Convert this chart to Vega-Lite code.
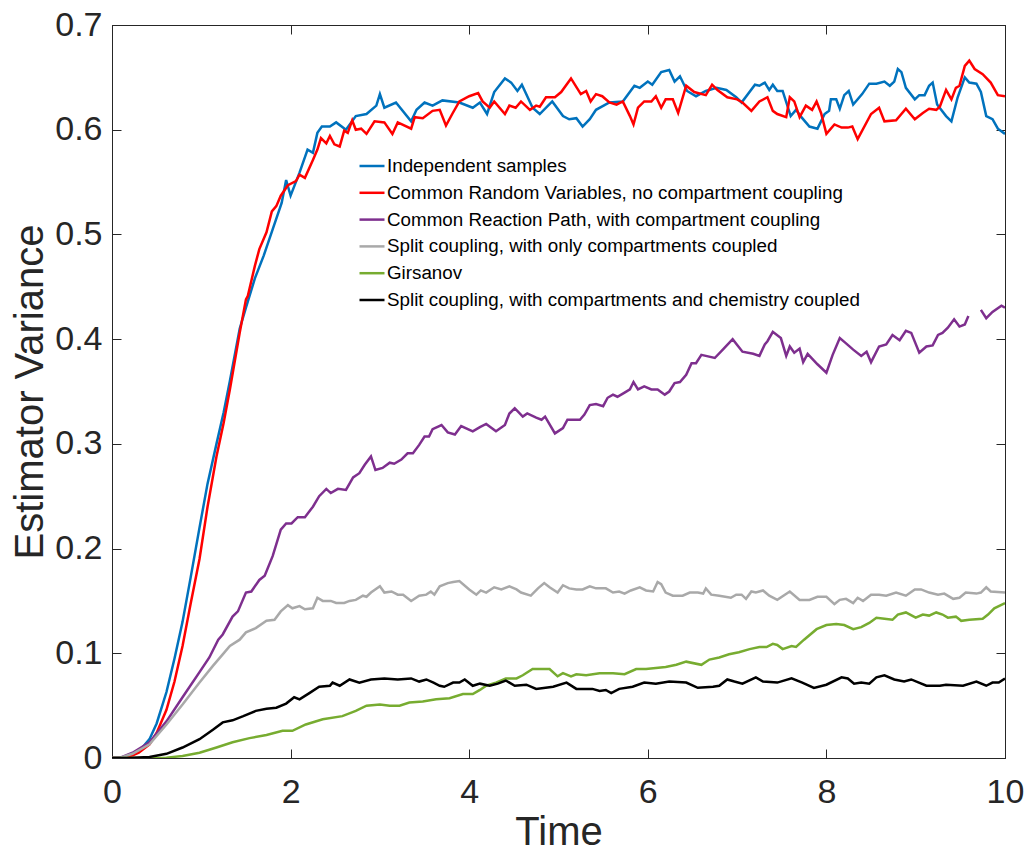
{
"$schema": "https://vega.github.io/schema/vega-lite/v6.json",
"width": 893, "height": 733,
"autosize": {"type": "none"},
"padding": {"left": 112, "top": 25, "right": 22, "bottom": 94},
"background": "white",
"config": {"view": {"stroke": "#262626", "strokeWidth": 1}, "font": "Liberation Sans"},
"data": {"values": [
{"t":0,"s":"a","v":0},{"t":0.1,"s":"a","v":0.0005},{"t":0.2,"s":"a","v":0.002},{"t":0.3,"s":"a","v":0.006},{"t":0.42,"s":"a","v":0.018},{"t":0.5,"s":"a","v":0.033},{"t":0.61,"s":"a","v":0.063},{"t":0.7,"s":"a","v":0.095},{"t":0.79,"s":"a","v":0.13},{"t":0.88,"s":"a","v":0.172},{"t":0.98,"s":"a","v":0.22},{"t":1.07,"s":"a","v":0.262},{"t":1.17,"s":"a","v":0.3},{"t":1.25,"s":"a","v":0.33},{"t":1.32,"s":"a","v":0.36},{"t":1.43,"s":"a","v":0.41},{"t":1.5,"s":"a","v":0.43},{"t":1.6,"s":"a","v":0.458},{"t":1.7,"s":"a","v":0.48},{"t":1.8,"s":"a","v":0.505},{"t":1.9,"s":"a","v":0.53},{"t":1.95,"s":"a","v":0.552},{"t":2.0,"s":"a","v":0.537},{"t":2.1,"s":"a","v":0.559},{"t":2.19,"s":"a","v":0.581},{"t":2.25,"s":"a","v":0.578},{"t":2.3,"s":"a","v":0.597},{"t":2.35,"s":"a","v":0.603},{"t":2.44,"s":"a","v":0.603},{"t":2.51,"s":"a","v":0.607},{"t":2.62,"s":"a","v":0.6},{"t":2.73,"s":"a","v":0.613},{"t":2.85,"s":"a","v":0.615},{"t":2.96,"s":"a","v":0.623},{"t":3.0,"s":"a","v":0.634},{"t":3.05,"s":"a","v":0.621},{"t":3.18,"s":"a","v":0.626},{"t":3.35,"s":"a","v":0.608},{"t":3.41,"s":"a","v":0.619},{"t":3.5,"s":"a","v":0.626},{"t":3.59,"s":"a","v":0.623},{"t":3.7,"s":"a","v":0.628},{"t":3.89,"s":"a","v":0.626},{"t":4.04,"s":"a","v":0.621},{"t":4.12,"s":"a","v":0.626},{"t":4.2,"s":"a","v":0.615},{"t":4.28,"s":"a","v":0.636},{"t":4.4,"s":"a","v":0.649},{"t":4.47,"s":"a","v":0.645},{"t":4.54,"s":"a","v":0.637},{"t":4.59,"s":"a","v":0.643},{"t":4.71,"s":"a","v":0.621},{"t":4.79,"s":"a","v":0.615},{"t":4.93,"s":"a","v":0.627},{"t":5.05,"s":"a","v":0.613},{"t":5.12,"s":"a","v":0.61},{"t":5.2,"s":"a","v":0.611},{"t":5.27,"s":"a","v":0.603},{"t":5.35,"s":"a","v":0.61},{"t":5.42,"s":"a","v":0.619},{"t":5.57,"s":"a","v":0.626},{"t":5.72,"s":"a","v":0.627},{"t":5.85,"s":"a","v":0.642},{"t":5.91,"s":"a","v":0.64},{"t":6.0,"s":"a","v":0.646},{"t":6.05,"s":"a","v":0.643},{"t":6.15,"s":"a","v":0.655},{"t":6.24,"s":"a","v":0.657},{"t":6.3,"s":"a","v":0.646},{"t":6.36,"s":"a","v":0.651},{"t":6.44,"s":"a","v":0.637},{"t":6.54,"s":"a","v":0.632},{"t":6.65,"s":"a","v":0.637},{"t":6.77,"s":"a","v":0.64},{"t":6.88,"s":"a","v":0.638},{"t":6.99,"s":"a","v":0.631},{"t":7.05,"s":"a","v":0.626},{"t":7.2,"s":"a","v":0.643},{"t":7.25,"s":"a","v":0.642},{"t":7.31,"s":"a","v":0.645},{"t":7.36,"s":"a","v":0.638},{"t":7.4,"s":"a","v":0.643},{"t":7.45,"s":"a","v":0.637},{"t":7.51,"s":"a","v":0.637},{"t":7.6,"s":"a","v":0.613},{"t":7.66,"s":"a","v":0.619},{"t":7.72,"s":"a","v":0.612},{"t":7.81,"s":"a","v":0.603},{"t":7.9,"s":"a","v":0.601},{"t":7.98,"s":"a","v":0.615},{"t":8.03,"s":"a","v":0.618},{"t":8.05,"s":"a","v":0.629},{"t":8.11,"s":"a","v":0.629},{"t":8.15,"s":"a","v":0.62},{"t":8.2,"s":"a","v":0.633},{"t":8.25,"s":"a","v":0.637},{"t":8.3,"s":"a","v":0.624},{"t":8.4,"s":"a","v":0.634},{"t":8.48,"s":"a","v":0.644},{"t":8.56,"s":"a","v":0.644},{"t":8.65,"s":"a","v":0.646},{"t":8.71,"s":"a","v":0.642},{"t":8.76,"s":"a","v":0.646},{"t":8.8,"s":"a","v":0.658},{"t":8.84,"s":"a","v":0.655},{"t":8.89,"s":"a","v":0.64},{"t":8.99,"s":"a","v":0.629},{"t":9.04,"s":"a","v":0.633},{"t":9.1,"s":"a","v":0.633},{"t":9.15,"s":"a","v":0.642},{"t":9.19,"s":"a","v":0.645},{"t":9.24,"s":"a","v":0.624},{"t":9.34,"s":"a","v":0.613},{"t":9.4,"s":"a","v":0.608},{"t":9.47,"s":"a","v":0.631},{"t":9.55,"s":"a","v":0.65},{"t":9.6,"s":"a","v":0.645},{"t":9.68,"s":"a","v":0.644},{"t":9.73,"s":"a","v":0.636},{"t":9.79,"s":"a","v":0.613},{"t":9.86,"s":"a","v":0.61},{"t":9.92,"s":"a","v":0.601},{"t":10,"s":"a","v":0.596},
{"t":0,"s":"b","v":0},{"t":0.1,"s":"b","v":0.0003},{"t":0.2,"s":"b","v":0.0015},{"t":0.3,"s":"b","v":0.005},{"t":0.42,"s":"b","v":0.013},{"t":0.5,"s":"b","v":0.024},{"t":0.61,"s":"b","v":0.046},{"t":0.7,"s":"b","v":0.073},{"t":0.79,"s":"b","v":0.107},{"t":0.88,"s":"b","v":0.147},{"t":0.98,"s":"b","v":0.19},{"t":1.07,"s":"b","v":0.24},{"t":1.17,"s":"b","v":0.288},{"t":1.25,"s":"b","v":0.32},{"t":1.32,"s":"b","v":0.352},{"t":1.43,"s":"b","v":0.406},{"t":1.5,"s":"b","v":0.438},{"t":1.52,"s":"b","v":0.441},{"t":1.6,"s":"b","v":0.47},{"t":1.65,"s":"b","v":0.486},{"t":1.73,"s":"b","v":0.502},{"t":1.79,"s":"b","v":0.522},{"t":1.84,"s":"b","v":0.527},{"t":1.89,"s":"b","v":0.537},{"t":1.97,"s":"b","v":0.547},{"t":2.06,"s":"b","v":0.551},{"t":2.1,"s":"b","v":0.557},{"t":2.16,"s":"b","v":0.554},{"t":2.25,"s":"b","v":0.571},{"t":2.3,"s":"b","v":0.581},{"t":2.34,"s":"b","v":0.592},{"t":2.4,"s":"b","v":0.587},{"t":2.44,"s":"b","v":0.594},{"t":2.49,"s":"b","v":0.586},{"t":2.55,"s":"b","v":0.584},{"t":2.6,"s":"b","v":0.599},{"t":2.64,"s":"b","v":0.597},{"t":2.69,"s":"b","v":0.609},{"t":2.73,"s":"b","v":0.6},{"t":2.79,"s":"b","v":0.601},{"t":2.85,"s":"b","v":0.596},{"t":2.94,"s":"b","v":0.608},{"t":3.05,"s":"b","v":0.607},{"t":3.14,"s":"b","v":0.596},{"t":3.2,"s":"b","v":0.607},{"t":3.35,"s":"b","v":0.601},{"t":3.39,"s":"b","v":0.612},{"t":3.48,"s":"b","v":0.611},{"t":3.59,"s":"b","v":0.618},{"t":3.67,"s":"b","v":0.619},{"t":3.74,"s":"b","v":0.604},{"t":3.81,"s":"b","v":0.615},{"t":3.89,"s":"b","v":0.627},{"t":4.0,"s":"b","v":0.632},{"t":4.1,"s":"b","v":0.635},{"t":4.15,"s":"b","v":0.627},{"t":4.23,"s":"b","v":0.621},{"t":4.28,"s":"b","v":0.627},{"t":4.4,"s":"b","v":0.615},{"t":4.45,"s":"b","v":0.623},{"t":4.52,"s":"b","v":0.621},{"t":4.58,"s":"b","v":0.627},{"t":4.68,"s":"b","v":0.619},{"t":4.75,"s":"b","v":0.623},{"t":4.79,"s":"b","v":0.622},{"t":4.86,"s":"b","v":0.631},{"t":4.96,"s":"b","v":0.631},{"t":5.03,"s":"b","v":0.636},{"t":5.14,"s":"b","v":0.649},{"t":5.25,"s":"b","v":0.634},{"t":5.31,"s":"b","v":0.637},{"t":5.36,"s":"b","v":0.627},{"t":5.42,"s":"b","v":0.634},{"t":5.49,"s":"b","v":0.632},{"t":5.57,"s":"b","v":0.626},{"t":5.65,"s":"b","v":0.624},{"t":5.72,"s":"b","v":0.627},{"t":5.8,"s":"b","v":0.613},{"t":5.84,"s":"b","v":0.605},{"t":5.89,"s":"b","v":0.621},{"t":5.96,"s":"b","v":0.627},{"t":6.04,"s":"b","v":0.627},{"t":6.09,"s":"b","v":0.632},{"t":6.15,"s":"b","v":0.621},{"t":6.2,"s":"b","v":0.629},{"t":6.28,"s":"b","v":0.629},{"t":6.34,"s":"b","v":0.616},{"t":6.43,"s":"b","v":0.642},{"t":6.52,"s":"b","v":0.636},{"t":6.65,"s":"b","v":0.633},{"t":6.72,"s":"b","v":0.643},{"t":6.78,"s":"b","v":0.638},{"t":6.89,"s":"b","v":0.631},{"t":7.0,"s":"b","v":0.629},{"t":7.06,"s":"b","v":0.626},{"t":7.16,"s":"b","v":0.618},{"t":7.25,"s":"b","v":0.627},{"t":7.34,"s":"b","v":0.631},{"t":7.4,"s":"b","v":0.618},{"t":7.45,"s":"b","v":0.615},{"t":7.55,"s":"b","v":0.612},{"t":7.59,"s":"b","v":0.631},{"t":7.64,"s":"b","v":0.627},{"t":7.7,"s":"b","v":0.612},{"t":7.77,"s":"b","v":0.623},{"t":7.84,"s":"b","v":0.619},{"t":7.89,"s":"b","v":0.627},{"t":7.94,"s":"b","v":0.616},{"t":8.0,"s":"b","v":0.596},{"t":8.09,"s":"b","v":0.605},{"t":8.17,"s":"b","v":0.602},{"t":8.24,"s":"b","v":0.602},{"t":8.29,"s":"b","v":0.603},{"t":8.35,"s":"b","v":0.591},{"t":8.5,"s":"b","v":0.615},{"t":8.59,"s":"b","v":0.621},{"t":8.65,"s":"b","v":0.608},{"t":8.78,"s":"b","v":0.609},{"t":8.89,"s":"b","v":0.62},{"t":8.99,"s":"b","v":0.61},{"t":9.08,"s":"b","v":0.616},{"t":9.15,"s":"b","v":0.62},{"t":9.23,"s":"b","v":0.619},{"t":9.27,"s":"b","v":0.622},{"t":9.34,"s":"b","v":0.638},{"t":9.4,"s":"b","v":0.629},{"t":9.45,"s":"b","v":0.64},{"t":9.49,"s":"b","v":0.642},{"t":9.55,"s":"b","v":0.661},{"t":9.6,"s":"b","v":0.666},{"t":9.66,"s":"b","v":0.658},{"t":9.75,"s":"b","v":0.653},{"t":9.84,"s":"b","v":0.645},{"t":9.92,"s":"b","v":0.633},{"t":10,"s":"b","v":0.632},
{"t":0,"s":"c","v":0},{"t":0.1,"s":"c","v":0.0005},{"t":0.23,"s":"c","v":0.005},{"t":0.42,"s":"c","v":0.015},{"t":0.61,"s":"c","v":0.035},{"t":0.79,"s":"c","v":0.058},{"t":0.98,"s":"c","v":0.082},{"t":1.09,"s":"c","v":0.096},{"t":1.19,"s":"c","v":0.113},{"t":1.24,"s":"c","v":0.118},{"t":1.35,"s":"c","v":0.135},{"t":1.41,"s":"c","v":0.14},{"t":1.5,"s":"c","v":0.158},{"t":1.56,"s":"c","v":0.159},{"t":1.65,"s":"c","v":0.17},{"t":1.71,"s":"c","v":0.174},{"t":1.8,"s":"c","v":0.193},{"t":1.89,"s":"c","v":0.218},{"t":1.95,"s":"c","v":0.224},{"t":2.01,"s":"c","v":0.224},{"t":2.08,"s":"c","v":0.23},{"t":2.16,"s":"c","v":0.23},{"t":2.25,"s":"c","v":0.24},{"t":2.32,"s":"c","v":0.25},{"t":2.4,"s":"c","v":0.257},{"t":2.45,"s":"c","v":0.253},{"t":2.53,"s":"c","v":0.257},{"t":2.62,"s":"c","v":0.256},{"t":2.7,"s":"c","v":0.268},{"t":2.77,"s":"c","v":0.272},{"t":2.83,"s":"c","v":0.28},{"t":2.9,"s":"c","v":0.288},{"t":2.95,"s":"c","v":0.275},{"t":3.03,"s":"c","v":0.277},{"t":3.11,"s":"c","v":0.282},{"t":3.16,"s":"c","v":0.281},{"t":3.24,"s":"c","v":0.285},{"t":3.31,"s":"c","v":0.291},{"t":3.37,"s":"c","v":0.291},{"t":3.44,"s":"c","v":0.299},{"t":3.5,"s":"c","v":0.307},{"t":3.55,"s":"c","v":0.307},{"t":3.59,"s":"c","v":0.314},{"t":3.69,"s":"c","v":0.318},{"t":3.76,"s":"c","v":0.311},{"t":3.84,"s":"c","v":0.309},{"t":3.91,"s":"c","v":0.317},{"t":4.04,"s":"c","v":0.312},{"t":4.12,"s":"c","v":0.316},{"t":4.19,"s":"c","v":0.319},{"t":4.3,"s":"c","v":0.312},{"t":4.4,"s":"c","v":0.318},{"t":4.45,"s":"c","v":0.329},{"t":4.51,"s":"c","v":0.334},{"t":4.6,"s":"c","v":0.326},{"t":4.65,"s":"c","v":0.329},{"t":4.75,"s":"c","v":0.325},{"t":4.81,"s":"c","v":0.323},{"t":4.85,"s":"c","v":0.326},{"t":4.96,"s":"c","v":0.31},{"t":5.05,"s":"c","v":0.315},{"t":5.1,"s":"c","v":0.323},{"t":5.16,"s":"c","v":0.323},{"t":5.24,"s":"c","v":0.323},{"t":5.29,"s":"c","v":0.328},{"t":5.35,"s":"c","v":0.337},{"t":5.42,"s":"c","v":0.338},{"t":5.5,"s":"c","v":0.336},{"t":5.55,"s":"c","v":0.344},{"t":5.61,"s":"c","v":0.347},{"t":5.66,"s":"c","v":0.345},{"t":5.74,"s":"c","v":0.349},{"t":5.8,"s":"c","v":0.352},{"t":5.84,"s":"c","v":0.359},{"t":5.89,"s":"c","v":0.352},{"t":5.96,"s":"c","v":0.355},{"t":6.04,"s":"c","v":0.352},{"t":6.11,"s":"c","v":0.352},{"t":6.19,"s":"c","v":0.347},{"t":6.24,"s":"c","v":0.35},{"t":6.3,"s":"c","v":0.358},{"t":6.36,"s":"c","v":0.359},{"t":6.43,"s":"c","v":0.366},{"t":6.49,"s":"c","v":0.377},{"t":6.54,"s":"c","v":0.377},{"t":6.6,"s":"c","v":0.385},{"t":6.65,"s":"c","v":0.384},{"t":6.75,"s":"c","v":0.382},{"t":6.84,"s":"c","v":0.39},{"t":6.95,"s":"c","v":0.4},{"t":7.06,"s":"c","v":0.388},{"t":7.18,"s":"c","v":0.386},{"t":7.25,"s":"c","v":0.384},{"t":7.31,"s":"c","v":0.395},{"t":7.34,"s":"c","v":0.398},{"t":7.4,"s":"c","v":0.407},{"t":7.49,"s":"c","v":0.401},{"t":7.55,"s":"c","v":0.384},{"t":7.59,"s":"c","v":0.393},{"t":7.64,"s":"c","v":0.387},{"t":7.7,"s":"c","v":0.391},{"t":7.74,"s":"c","v":0.378},{"t":7.79,"s":"c","v":0.386},{"t":7.9,"s":"c","v":0.376},{"t":8.0,"s":"c","v":0.368},{"t":8.07,"s":"c","v":0.385},{"t":8.15,"s":"c","v":0.401},{"t":8.22,"s":"c","v":0.396},{"t":8.3,"s":"c","v":0.39},{"t":8.39,"s":"c","v":0.384},{"t":8.45,"s":"c","v":0.388},{"t":8.5,"s":"c","v":0.378},{"t":8.59,"s":"c","v":0.393},{"t":8.67,"s":"c","v":0.395},{"t":8.74,"s":"c","v":0.404},{"t":8.82,"s":"c","v":0.399},{"t":8.89,"s":"c","v":0.408},{"t":8.95,"s":"c","v":0.406},{"t":9.04,"s":"c","v":0.387},{"t":9.12,"s":"c","v":0.393},{"t":9.19,"s":"c","v":0.394},{"t":9.25,"s":"c","v":0.404},{"t":9.3,"s":"c","v":0.406},{"t":9.36,"s":"c","v":0.411},{"t":9.43,"s":"c","v":0.419},{"t":9.49,"s":"c","v":0.412},{"t":9.55,"s":"c","v":0.414},{"t":9.59,"s":"c","v":0.422},{"t":9.65,"s":"c","v":null},{"t":9.73,"s":"c","v":0.428},{"t":9.79,"s":"c","v":0.42},{"t":9.86,"s":"c","v":0.426},{"t":9.96,"s":"c","v":0.432},{"t":10,"s":"c","v":0.43},
{"t":0,"s":"d","v":0},{"t":0.1,"s":"d","v":0.0005},{"t":0.23,"s":"d","v":0.004},{"t":0.42,"s":"d","v":0.013},{"t":0.61,"s":"d","v":0.032},{"t":0.79,"s":"d","v":0.051},{"t":0.98,"s":"d","v":0.072},{"t":1.13,"s":"d","v":0.088},{"t":1.24,"s":"d","v":0.099},{"t":1.32,"s":"d","v":0.107},{"t":1.43,"s":"d","v":0.113},{"t":1.5,"s":"d","v":0.12},{"t":1.61,"s":"d","v":0.124},{"t":1.73,"s":"d","v":0.131},{"t":1.82,"s":"d","v":0.132},{"t":1.89,"s":"d","v":0.14},{"t":1.97,"s":"d","v":0.146},{"t":2.02,"s":"d","v":0.143},{"t":2.1,"s":"d","v":0.145},{"t":2.16,"s":"d","v":0.142},{"t":2.25,"s":"d","v":0.143},{"t":2.3,"s":"d","v":0.153},{"t":2.36,"s":"d","v":0.15},{"t":2.45,"s":"d","v":0.15},{"t":2.51,"s":"d","v":0.148},{"t":2.6,"s":"d","v":0.148},{"t":2.66,"s":"d","v":0.15},{"t":2.73,"s":"d","v":0.151},{"t":2.81,"s":"d","v":0.155},{"t":2.85,"s":"d","v":0.154},{"t":2.9,"s":"d","v":0.158},{"t":3.0,"s":"d","v":0.164},{"t":3.05,"s":"d","v":0.158},{"t":3.13,"s":"d","v":0.159},{"t":3.2,"s":"d","v":0.156},{"t":3.26,"s":"d","v":0.156},{"t":3.35,"s":"d","v":0.15},{"t":3.44,"s":"d","v":0.155},{"t":3.52,"s":"d","v":0.156},{"t":3.57,"s":"d","v":0.159},{"t":3.61,"s":"d","v":0.156},{"t":3.67,"s":"d","v":0.164},{"t":3.76,"s":"d","v":0.167},{"t":3.82,"s":"d","v":0.168},{"t":3.89,"s":"d","v":0.169},{"t":4.0,"s":"d","v":0.161},{"t":4.08,"s":"d","v":0.156},{"t":4.13,"s":"d","v":0.16},{"t":4.19,"s":"d","v":0.158},{"t":4.28,"s":"d","v":0.163},{"t":4.36,"s":"d","v":0.161},{"t":4.45,"s":"d","v":0.164},{"t":4.53,"s":"d","v":0.161},{"t":4.58,"s":"d","v":0.158},{"t":4.69,"s":"d","v":0.155},{"t":4.77,"s":"d","v":0.162},{"t":4.84,"s":"d","v":0.167},{"t":4.9,"s":"d","v":0.163},{"t":4.99,"s":"d","v":0.158},{"t":5.05,"s":"d","v":0.165},{"t":5.12,"s":"d","v":0.162},{"t":5.2,"s":"d","v":0.161},{"t":5.27,"s":"d","v":0.161},{"t":5.35,"s":"d","v":0.164},{"t":5.42,"s":"d","v":0.162},{"t":5.53,"s":"d","v":0.162},{"t":5.61,"s":"d","v":0.158},{"t":5.68,"s":"d","v":0.159},{"t":5.74,"s":"d","v":0.157},{"t":5.81,"s":"d","v":0.16},{"t":5.91,"s":"d","v":0.163},{"t":5.98,"s":"d","v":0.16},{"t":6.06,"s":"d","v":0.159},{"t":6.11,"s":"d","v":0.168},{"t":6.15,"s":"d","v":0.166},{"t":6.2,"s":"d","v":0.158},{"t":6.28,"s":"d","v":0.155},{"t":6.39,"s":"d","v":0.155},{"t":6.47,"s":"d","v":0.158},{"t":6.56,"s":"d","v":0.158},{"t":6.62,"s":"d","v":0.157},{"t":6.65,"s":"d","v":0.162},{"t":6.71,"s":"d","v":0.156},{"t":6.8,"s":"d","v":0.155},{"t":6.93,"s":"d","v":0.153},{"t":6.99,"s":"d","v":0.156},{"t":7.05,"s":"d","v":0.156},{"t":7.1,"s":"d","v":0.152},{"t":7.16,"s":"d","v":0.159},{"t":7.21,"s":"d","v":0.158},{"t":7.29,"s":"d","v":0.16},{"t":7.36,"s":"d","v":0.155},{"t":7.45,"s":"d","v":0.151},{"t":7.59,"s":"d","v":0.159},{"t":7.7,"s":"d","v":0.151},{"t":7.81,"s":"d","v":0.151},{"t":7.9,"s":"d","v":0.154},{"t":8.0,"s":"d","v":0.154},{"t":8.09,"s":"d","v":0.147},{"t":8.15,"s":"d","v":0.151},{"t":8.22,"s":"d","v":0.152},{"t":8.3,"s":"d","v":0.148},{"t":8.35,"s":"d","v":0.153},{"t":8.41,"s":"d","v":0.15},{"t":8.5,"s":"d","v":0.156},{"t":8.59,"s":"d","v":0.156},{"t":8.67,"s":"d","v":0.155},{"t":8.78,"s":"d","v":0.158},{"t":8.89,"s":"d","v":0.155},{"t":8.99,"s":"d","v":0.161},{"t":9.06,"s":"d","v":0.161},{"t":9.15,"s":"d","v":0.158},{"t":9.25,"s":"d","v":0.156},{"t":9.32,"s":"d","v":0.157},{"t":9.42,"s":"d","v":0.152},{"t":9.49,"s":"d","v":0.153},{"t":9.56,"s":"d","v":0.158},{"t":9.68,"s":"d","v":0.157},{"t":9.73,"s":"d","v":0.158},{"t":9.79,"s":"d","v":0.163},{"t":9.84,"s":"d","v":0.159},{"t":10,"s":"d","v":0.158},
{"t":0,"s":"e","v":0},{"t":0.3,"s":"e","v":0},{"t":0.5,"s":"e","v":0},{"t":0.61,"s":"e","v":0.0003},{"t":0.79,"s":"e","v":0.002},{"t":0.98,"s":"e","v":0.005},{"t":1.17,"s":"e","v":0.01},{"t":1.35,"s":"e","v":0.015},{"t":1.54,"s":"e","v":0.019},{"t":1.73,"s":"e","v":0.022},{"t":1.91,"s":"e","v":0.026},{"t":2.02,"s":"e","v":0.026},{"t":2.17,"s":"e","v":0.032},{"t":2.36,"s":"e","v":0.037},{"t":2.58,"s":"e","v":0.04},{"t":2.73,"s":"e","v":0.045},{"t":2.85,"s":"e","v":0.05},{"t":3.0,"s":"e","v":0.051},{"t":3.11,"s":"e","v":0.05},{"t":3.22,"s":"e","v":0.05},{"t":3.33,"s":"e","v":0.053},{"t":3.48,"s":"e","v":0.054},{"t":3.63,"s":"e","v":0.056},{"t":3.78,"s":"e","v":0.057},{"t":3.93,"s":"e","v":0.061},{"t":4.04,"s":"e","v":0.061},{"t":4.12,"s":"e","v":0.065},{"t":4.19,"s":"e","v":0.069},{"t":4.3,"s":"e","v":0.072},{"t":4.41,"s":"e","v":0.076},{"t":4.53,"s":"e","v":0.076},{"t":4.6,"s":"e","v":0.079},{"t":4.71,"s":"e","v":0.085},{"t":4.9,"s":"e","v":0.085},{"t":4.99,"s":"e","v":0.078},{"t":5.05,"s":"e","v":0.081},{"t":5.14,"s":"e","v":0.078},{"t":5.2,"s":"e","v":0.08},{"t":5.31,"s":"e","v":0.079},{"t":5.46,"s":"e","v":0.081},{"t":5.61,"s":"e","v":0.081},{"t":5.74,"s":"e","v":0.08},{"t":5.87,"s":"e","v":0.085},{"t":5.98,"s":"e","v":0.085},{"t":6.09,"s":"e","v":0.086},{"t":6.2,"s":"e","v":0.087},{"t":6.32,"s":"e","v":0.089},{"t":6.43,"s":"e","v":0.092},{"t":6.6,"s":"e","v":0.089},{"t":6.69,"s":"e","v":0.094},{"t":6.8,"s":"e","v":0.096},{"t":6.91,"s":"e","v":0.099},{"t":7.02,"s":"e","v":0.101},{"t":7.14,"s":"e","v":0.104},{"t":7.25,"s":"e","v":0.106},{"t":7.33,"s":"e","v":0.106},{"t":7.4,"s":"e","v":0.109},{"t":7.45,"s":"e","v":0.108},{"t":7.51,"s":"e","v":0.104},{"t":7.61,"s":"e","v":0.107},{"t":7.66,"s":"e","v":0.106},{"t":7.75,"s":"e","v":0.113},{"t":7.89,"s":"e","v":0.123},{"t":8.0,"s":"e","v":0.127},{"t":8.11,"s":"e","v":0.128},{"t":8.2,"s":"e","v":0.127},{"t":8.3,"s":"e","v":0.123},{"t":8.39,"s":"e","v":0.125},{"t":8.48,"s":"e","v":0.129},{"t":8.56,"s":"e","v":0.134},{"t":8.65,"s":"e","v":0.133},{"t":8.74,"s":"e","v":0.132},{"t":8.8,"s":"e","v":0.137},{"t":8.89,"s":"e","v":0.139},{"t":9.0,"s":"e","v":0.134},{"t":9.08,"s":"e","v":0.137},{"t":9.15,"s":"e","v":0.136},{"t":9.23,"s":"e","v":0.139},{"t":9.3,"s":"e","v":0.137},{"t":9.36,"s":"e","v":0.134},{"t":9.45,"s":"e","v":0.135},{"t":9.51,"s":"e","v":0.131},{"t":9.6,"s":"e","v":0.132},{"t":9.75,"s":"e","v":0.133},{"t":9.81,"s":"e","v":0.137},{"t":9.88,"s":"e","v":0.143},{"t":10,"s":"e","v":0.148},
{"t":0,"s":"f","v":0},{"t":0.23,"s":"f","v":0.0003},{"t":0.42,"s":"f","v":0.001},{"t":0.61,"s":"f","v":0.004},{"t":0.79,"s":"f","v":0.01},{"t":0.98,"s":"f","v":0.018},{"t":1.13,"s":"f","v":0.027},{"t":1.24,"s":"f","v":0.034},{"t":1.35,"s":"f","v":0.036},{"t":1.47,"s":"f","v":0.04},{"t":1.61,"s":"f","v":0.045},{"t":1.73,"s":"f","v":0.047},{"t":1.84,"s":"f","v":0.048},{"t":1.95,"s":"f","v":0.052},{"t":2.04,"s":"f","v":0.058},{"t":2.1,"s":"f","v":0.056},{"t":2.21,"s":"f","v":0.062},{"t":2.32,"s":"f","v":0.068},{"t":2.44,"s":"f","v":0.069},{"t":2.47,"s":"f","v":0.072},{"t":2.55,"s":"f","v":0.069},{"t":2.66,"s":"f","v":0.075},{"t":2.77,"s":"f","v":0.072},{"t":2.9,"s":"f","v":0.075},{"t":3.05,"s":"f","v":0.076},{"t":3.2,"s":"f","v":0.075},{"t":3.35,"s":"f","v":0.076},{"t":3.44,"s":"f","v":0.073},{"t":3.52,"s":"f","v":0.075},{"t":3.6,"s":"f","v":0.072},{"t":3.67,"s":"f","v":0.069},{"t":3.72,"s":"f","v":0.068},{"t":3.82,"s":"f","v":0.072},{"t":3.89,"s":"f","v":0.072},{"t":3.95,"s":"f","v":0.075},{"t":4.04,"s":"f","v":0.069},{"t":4.12,"s":"f","v":0.071},{"t":4.23,"s":"f","v":0.069},{"t":4.32,"s":"f","v":0.071},{"t":4.41,"s":"f","v":0.074},{"t":4.51,"s":"f","v":0.069},{"t":4.64,"s":"f","v":0.07},{"t":4.75,"s":"f","v":0.066},{"t":4.94,"s":"f","v":0.068},{"t":5.09,"s":"f","v":0.072},{"t":5.2,"s":"f","v":0.066},{"t":5.38,"s":"f","v":0.066},{"t":5.46,"s":"f","v":0.064},{"t":5.53,"s":"f","v":0.065},{"t":5.59,"s":"f","v":0.062},{"t":5.68,"s":"f","v":0.066},{"t":5.83,"s":"f","v":0.068},{"t":5.96,"s":"f","v":0.072},{"t":6.09,"s":"f","v":0.071},{"t":6.24,"s":"f","v":0.073},{"t":6.43,"s":"f","v":0.072},{"t":6.56,"s":"f","v":0.067},{"t":6.73,"s":"f","v":0.068},{"t":6.8,"s":"f","v":0.069},{"t":6.89,"s":"f","v":0.075},{"t":6.97,"s":"f","v":0.073},{"t":7.06,"s":"f","v":0.071},{"t":7.21,"s":"f","v":0.077},{"t":7.29,"s":"f","v":0.073},{"t":7.45,"s":"f","v":0.072},{"t":7.61,"s":"f","v":0.076},{"t":7.73,"s":"f","v":0.072},{"t":7.86,"s":"f","v":0.067},{"t":8.0,"s":"f","v":0.07},{"t":8.17,"s":"f","v":0.077},{"t":8.24,"s":"f","v":0.076},{"t":8.31,"s":"f","v":0.071},{"t":8.39,"s":"f","v":0.072},{"t":8.48,"s":"f","v":0.071},{"t":8.56,"s":"f","v":0.077},{"t":8.65,"s":"f","v":0.079},{"t":8.76,"s":"f","v":0.075},{"t":8.87,"s":"f","v":0.073},{"t":8.95,"s":"f","v":0.075},{"t":9.12,"s":"f","v":0.069},{"t":9.27,"s":"f","v":0.069},{"t":9.34,"s":"f","v":0.07},{"t":9.53,"s":"f","v":0.069},{"t":9.68,"s":"f","v":0.073},{"t":9.79,"s":"f","v":0.069},{"t":9.86,"s":"f","v":0.072},{"t":9.93,"s":"f","v":0.072},{"t":10,"s":"f","v":0.076}
]},
"layer": [
{
"mark": {"type": "line", "strokeWidth": 2.5, "clip": true, "invalid": "break-paths-show-domains"},
"encoding": {
"x": {"field": "t", "type": "quantitative", "scale": {"domain": [0, 10], "nice": false, "zero": false},
"axis": {"orient": "bottom", "values": [0, 2, 4, 6, 8, 10], "format": "d", "title": "Time", "titleFontSize": 40, "titleFontWeight": "normal", "titleColor": "#262626", "titleFont": "Liberation Sans", "titlePadding": 3, "labelFontSize": 34, "labelFont": "Liberation Sans", "labelColor": "#262626", "labelPadding": 26, "labelFlush": false, "labelOverlap": false, "tickSize": -9, "tickColor": "#262626", "domainColor": "#262626", "grid": false}},
"y": {"field": "v", "type": "quantitative", "scale": {"domain": [0, 0.7], "nice": false, "zero": false},
"axis": {"orient": "left", "values": [0, 0.1, 0.2, 0.3, 0.4, 0.5, 0.6, 0.7], "format": ".1~f", "title": "Estimator Variance", "titleFontSize": 40, "titleFontWeight": "normal", "titleColor": "#262626", "titleFont": "Liberation Sans", "titlePadding": 4, "labelFontSize": 34, "labelFont": "Liberation Sans", "labelColor": "#262626", "labelPadding": 19, "labelFlush": false, "labelOverlap": false, "tickSize": -9, "tickColor": "#262626", "domainColor": "#262626", "grid": false}},
"color": {"field": "s", "type": "nominal",
"scale": {"domain": ["a", "b", "c", "d", "e", "f"], "range": ["#0072BD", "#FF0000", "#7E2F8E", "#A9A9A9", "#77AC30", "#000000"]},
"legend": {"orient": "none", "legendX": 246, "legendY": 127, "title": null, "symbolType": "stroke", "symbolStrokeWidth": 2.5, "symbolSize": 625, "labelFontSize": 18.8, "labelFont": "Liberation Sans", "labelColor": "#000000", "labelOffset": 1, "rowPadding": 2.8, "padding": 0, "labelLimit": 800,
"labelExpr": "datum.label == 'a' ? 'Independent samples' : datum.label == 'b' ? 'Common Random Variables, no compartment coupling' : datum.label == 'c' ? 'Common Reaction Path, with compartment coupling' : datum.label == 'd' ? 'Split coupling, with only compartments coupled' : datum.label == 'e' ? 'Girsanov' : 'Split coupling, with compartments and chemistry coupled'"}}
}
},
{
"mark": {"type": "line", "opacity": 0, "invalid": "break-paths-show-domains"},
"encoding": {
"x": {"field": "t", "type": "quantitative", "axis": {"orient": "top", "values": [0, 2, 4, 6, 8, 10], "labels": false, "title": null, "tickSize": -9, "tickColor": "#262626", "domainColor": "#262626", "grid": false}},
"y": {"field": "v", "type": "quantitative", "axis": {"orient": "right", "values": [0, 0.1, 0.2, 0.3, 0.4, 0.5, 0.6, 0.7], "labels": false, "title": null, "tickSize": -9, "tickColor": "#262626", "domainColor": "#262626", "grid": false}},
"detail": {"field": "s", "type": "nominal"}
}
}
],
"resolve": {"axis": {"x": "independent", "y": "independent"}}
}
